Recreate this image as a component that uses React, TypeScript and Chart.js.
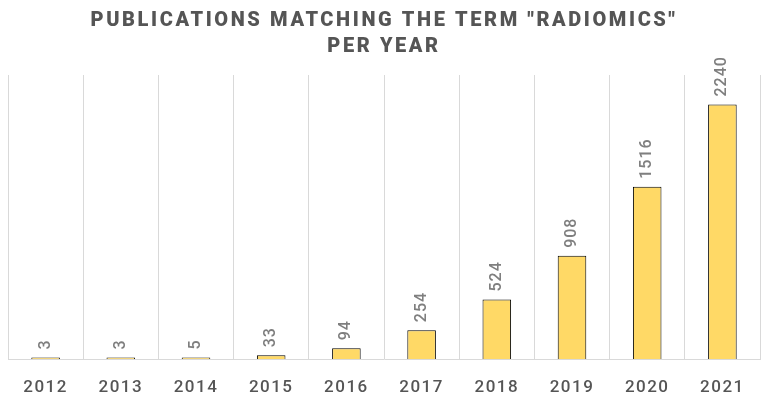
import React, { useEffect, useRef } from "react";
import { Chart, registerables } from "chart.js";

Chart.register(...registerables);

const years = ["2012", "2013", "2014", "2015", "2016", "2017", "2018", "2019", "2020", "2021"];
const publications = [3, 3, 5, 33, 94, 254, 524, 908, 1516, 2240];
const titleLines = ['PUBLICATIONS MATCHING THE TERM "RADIOMICS"', "PER YEAR"];

const FONT = "Roboto";

const spacingPlugin = {
  id: "spacing",
  beforeDraw(chart: any) {
    (chart.ctx as any).letterSpacing = "1.5px";
    const tb = chart.titleBlock;
    if (tb && !tb.__wrapped) {
      const orig = tb.draw;
      tb.draw = function (...args: any[]) {
        const ctx = chart.ctx;
        ctx.save();
        ctx.letterSpacing = "2.6px";
        orig.apply(this, args);
        ctx.restore();
      };
      tb.__wrapped = true;
    }
  },
};

const labelPlugin = {
  id: "barLabels",
  afterDatasetsDraw(chart: any) {
    const ctx = chart.ctx;
    const meta = chart.getDatasetMeta(0);
    const data = chart.data.datasets[0].data as number[];
    ctx.save();
    (ctx as any).letterSpacing = "1px";
    ctx.fillStyle = "#7f7f7f";
    ctx.font = `500 16px ${FONT}`;
    ctx.textAlign = "left";
    ctx.textBaseline = "middle";
    meta.data.forEach((bar: any, i: number) => {
      ctx.save();
      ctx.translate(bar.x, bar.y - 8);
      ctx.rotate(-Math.PI / 2);
      ctx.fillText(String(data[i]), 0, 0);
      ctx.restore();
    });
    ctx.restore();
  },
};

export default function App() {
  const ref = useRef<HTMLCanvasElement>(null);
  useEffect(() => {
    document.body.style.margin = "0";
    const chart = new Chart(ref.current!, {
      type: "bar",
      data: {
        labels: years,
        datasets: [
          {
            data: publications,
            backgroundColor: "#FFD966",
            borderColor: "#000000",
            borderWidth: 1,
            barPercentage: 0.38,
            categoryPercentage: 1,
            minBarLength: 1.5,
          },
        ],
      },
      options: {
        animation: false,
        responsive: false,
        layout: { padding: { left: 8, right: 11, top: 0, bottom: 0 } },
        plugins: {
          legend: { display: false },
          tooltip: { enabled: false },
          title: {
            display: true,
            text: titleLines,
            color: "#555555",
            font: { family: FONT, size: 20, weight: 900, lineHeight: 1.3 },
            padding: { top: 8, bottom: 15 },
          },
        },
        scales: {
          x: {
            afterFit(scale: any) {
              scale.height = 39;
            },
            grid: { display: true, color: "#d9d9d9", drawTicks: false, offset: true },
            border: { display: true, color: "#d9d9d9" },
            ticks: {
              color: "#555555",
              padding: 19,
              font: { family: FONT, size: 17, weight: 500 },
            },
          },
          y: {
            display: false,
            min: 0,
            max: 2500,
          },
        },
      },
      plugins: [spacingPlugin, labelPlugin],
    });
    return () => chart.destroy();
  }, []);
  return (
    <div style={{ width: 771, height: 398 }}>
      <canvas ref={ref} width={771} height={398} />
    </div>
  );
}
